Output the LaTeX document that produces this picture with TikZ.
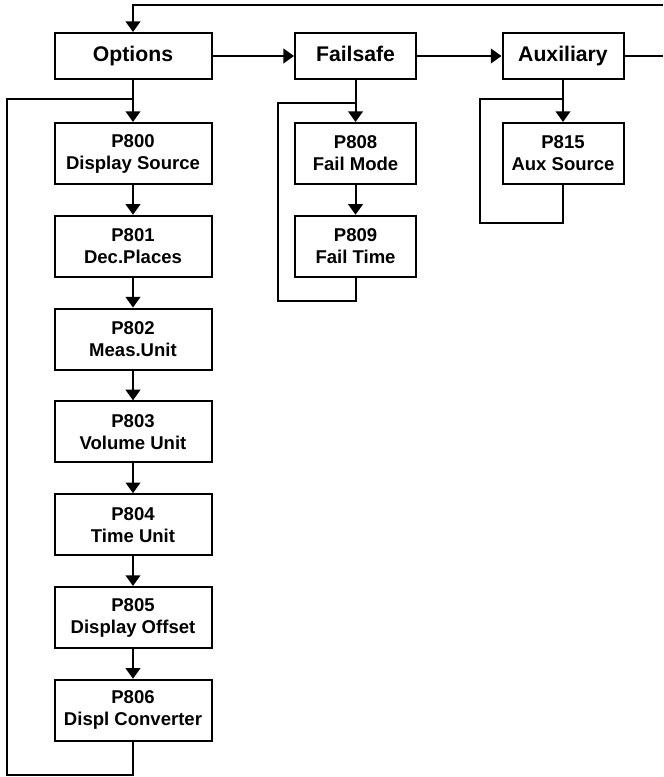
\documentclass[tikz,border=0pt]{standalone}
\usepackage{fontspec}
\setmainfont{Liberation Sans}
\usetikzlibrary{arrows.meta,positioning}
\tikzset{
    menu/.style =   {rectangle,
                    fill=white,
                    draw=black,
                    text=black,
                    line width=1.5pt,
                    inner sep=0pt,
                    text height=11.4pt,
                    text depth=3.3pt,
                    minimum height=34.5pt,
                    font=\fontsize{15.9}{18}\selectfont\bfseries},
    param/.style =  {rectangle,
                    fill=white,
                    draw=black,
                    text=black,
                    line width=1.5pt,
                    inner sep=0pt,
                    align=center,
                    minimum height=45.75pt,
                    font=\fontsize{13.9}{16.5}\selectfont\bfseries},
    wide/.style =   {minimum width=117.75pt},
    narrow/.style = {minimum width=90.75pt},
    link/.style =   {line width=1.5pt, draw=black},
    >={Triangle[width=11pt,length=8pt]}}

\begin{document}
\begin{tikzpicture}[x=0.75pt, y=-0.75pt, node distance=69.6pt]
            \useasboundingbox (0,0) rectangle (663,777);

            % menu row
            \node[menu,wide]    (opt)  at (133,56)                           {Options};
            \node[menu,narrow]  (fail) [right of=opt, node distance=166.9pt]  {Failsafe};
            \node[menu,narrow]  (aux)  [right of=fail, node distance=155.6pt] {Auxiliary};

            % options column
            \node[param,wide]   (p800) [below of=opt, node distance=73.1pt]  {P800\\Display Source};
            \node[param,wide]   (p801) [below of=p800]                        {P801\\Dec.Places};
            \node[param,wide]   (p802) [below of=p801]                        {P802\\Meas.Unit};
            \node[param,wide]   (p803) [below of=p802]                        {P803\\Volume Unit};
            \node[param,wide]   (p804) [below of=p803]                        {P804\\Time Unit};
            \node[param,wide]   (p805) [below of=p804]                        {P805\\Display Offset};
            \node[param,wide]   (p806) [below of=p805]                        {P806\\Displ Converter};

            % failsafe column
            \node[param,narrow] (p808) [below of=fail, node distance=73.1pt] {P808\\Fail Mode};
            \node[param,narrow] (p809) [below of=p808]                        {P809\\Fail Time};

            % auxiliary column
            \node[param,narrow] (p815) [below of=aux, node distance=73.1pt]  {P815\\Aux Source};

            % free ends and loop corners
            \coordinate (outR)  at (663,56);
            \coordinate (outT)  at (663,5);
            \coordinate (optL)  at (7,775);
            \coordinate (optT)  at (133,99);
            \coordinate (failL) at (278,301);
            \coordinate (failT) at (355.5,103);
            \coordinate (auxL)  at (480,223);
            \coordinate (auxT)  at (563,99);

            \path [link]    (opt)  edge [->]    (fail)
                            (fail) edge [->]    (aux)
                            (aux)  edge []      (outR)
                            (opt)  edge [->]    (p800)
                            (p800) edge [->]    (p801)
                            (p801) edge [->]    (p802)
                            (p802) edge [->]    (p803)
                            (p803) edge [->]    (p804)
                            (p804) edge [->]    (p805)
                            (p805) edge [->]    (p806)
                            (fail) edge [->]    (p808)
                            (p808) edge [->]    (p809)
                            (aux)  edge [->]    (p815);

            \draw [link,->] (outT) -| (opt.north);
            \draw [link]    (p806.south) |- (optL) |- (optT);
            \draw [link]    (p809.south) |- (failL) |- (failT);
            \draw [link]    (p815.south) |- (auxL) |- (auxT);
        \end{tikzpicture}
\end{document}
